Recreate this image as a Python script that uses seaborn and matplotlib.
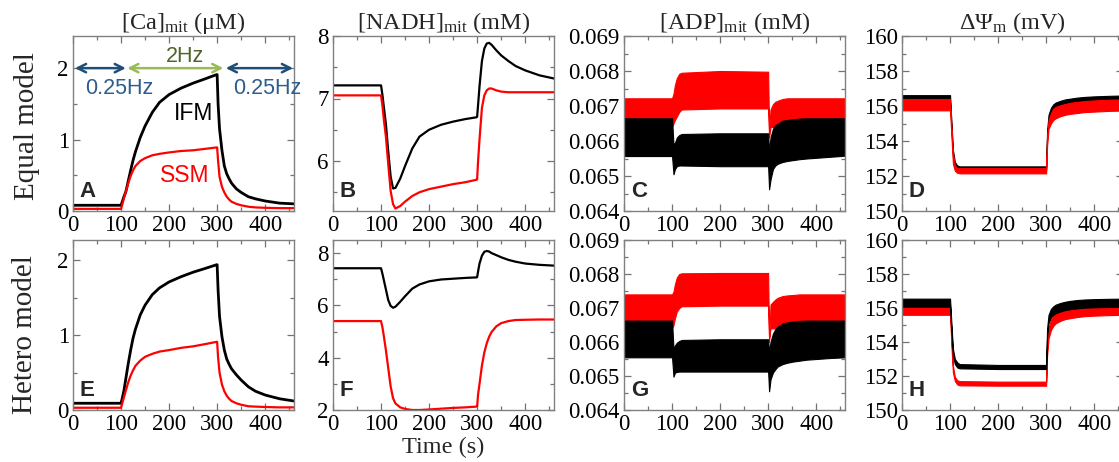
import numpy as np
import seaborn as sns
import matplotlib.pyplot as plt
from matplotlib.ticker import MultipleLocator, FormatStrFormatter

# time grids (s)
t_line = [0, 100, 103, 106, 110, 115, 120, 125, 130, 140, 150, 165, 180, 200, 225, 250, 275,
          299, 300, 302, 305, 310, 315, 320, 325, 330, 340, 350, 365, 380, 400, 430, 460]
t_band = [0, 100, 103, 106, 110, 115, 120, 200, 299, 300, 302, 305, 310, 315, 320, 330,
          340, 350, 365, 380, 400, 430, 460]

# [Ca]mit (uM)
ca_ifm_eq = [0.08, 0.08, 0.14, 0.20, 0.27, 0.42, 0.57, 0.71, 0.83, 1.03, 1.19, 1.38, 1.52, 1.63, 1.72, 1.79, 1.85,
             1.91, 1.91, 1.50, 1.15, 0.85, 0.63, 0.52, 0.45, 0.39, 0.31, 0.26, 0.20, 0.17, 0.14, 0.11, 0.10]
ca_ssm_eq = [0.03, 0.03, 0.10, 0.18, 0.27, 0.39, 0.49, 0.57, 0.63, 0.70, 0.74, 0.78, 0.80, 0.82, 0.84, 0.85, 0.87,
             0.89, 0.89, 0.70, 0.48, 0.34, 0.26, 0.20, 0.16, 0.13, 0.10, 0.08, 0.06, 0.05, 0.045, 0.04, 0.04]
ca_ifm_het = [0.09, 0.09, 0.17, 0.26, 0.42, 0.62, 0.80, 0.96, 1.08, 1.27, 1.40, 1.54, 1.63, 1.71, 1.78, 1.84, 1.89,
              1.94, 1.94, 1.60, 1.25, 0.98, 0.80, 0.68, 0.61, 0.55, 0.47, 0.40, 0.31, 0.25, 0.20, 0.15, 0.12]
ca_ssm_het = [0.03, 0.03, 0.10, 0.17, 0.26, 0.37, 0.46, 0.53, 0.59, 0.66, 0.71, 0.75, 0.78, 0.80, 0.83, 0.85, 0.88,
              0.91, 0.91, 0.70, 0.50, 0.34, 0.25, 0.19, 0.15, 0.12, 0.09, 0.07, 0.05, 0.045, 0.04, 0.035, 0.035]

# [NADH]mit (mM)
nadh_ifm_eq = [7.21, 7.21, 7.05, 6.85, 6.60, 6.15, 5.75, 5.56, 5.57, 5.72, 5.92, 6.20, 6.39, 6.50, 6.58, 6.63, 6.67,
               6.70, 6.71, 6.90, 7.20, 7.60, 7.80, 7.88, 7.89, 7.86, 7.77, 7.69, 7.60, 7.52, 7.45, 7.37, 7.32]
nadh_ssm_eq = [7.05, 7.05, 6.88, 6.65, 6.40, 5.95, 5.52, 5.31, 5.24, 5.28, 5.35, 5.44, 5.50, 5.55, 5.59, 5.63, 5.66,
               5.70, 5.71, 6.00, 6.35, 6.85, 7.05, 7.13, 7.16, 7.16, 7.13, 7.11, 7.10, 7.10, 7.10, 7.10, 7.10]
nadh_ifm_het = [7.42, 7.42, 7.20, 6.95, 6.62, 6.20, 5.98, 5.91, 5.95, 6.14, 6.35, 6.64, 6.80, 6.92, 6.99, 7.02, 7.05,
                7.07, 7.08, 7.30, 7.60, 7.90, 8.05, 8.08, 8.06, 8.00, 7.92, 7.84, 7.74, 7.67, 7.60, 7.55, 7.52]
nadh_ssm_het = [5.40, 5.40, 5.15, 4.80, 4.30, 3.60, 2.90, 2.45, 2.25, 2.10, 2.04, 2.00, 2.00, 2.02, 2.05, 2.08, 2.10,
                2.13, 2.14, 2.60, 3.00, 3.70, 4.20, 4.55, 4.80, 4.98, 5.20, 5.32, 5.40, 5.44, 5.45, 5.46, 5.46]

# [ADP]mit (mM) oscillation envelopes
adp_ssm_eq_hi = [0.06722, 0.06722, 0.06735, 0.06760, 0.06780, 0.06792, 0.06795, 0.06800, 0.06798, 0.06798, 0.06630,
                 0.06690, 0.06705, 0.06712, 0.06715, 0.06720, 0.06722, 0.06722, 0.06722, 0.06722, 0.06722, 0.06722, 0.06722]
adp_ssm_eq_lo = [0.06640, 0.06640, 0.06650, 0.06660, 0.06670, 0.06683, 0.06690, 0.06693, 0.06693, 0.06693, 0.06610,
                 0.06640, 0.06640, 0.06640, 0.06640, 0.06640, 0.06640, 0.06640, 0.06640, 0.06640, 0.06640, 0.06640, 0.06640]
adp_ifm_eq_hi = [0.06665, 0.06665, 0.06590, 0.06595, 0.06610, 0.06617, 0.06620, 0.06622, 0.06622, 0.06622, 0.06570,
                 0.06610, 0.06635, 0.06645, 0.06650, 0.06658, 0.06660, 0.06662, 0.06664, 0.06665, 0.06665, 0.06665, 0.06665]
adp_ifm_eq_lo = [0.06557, 0.06557, 0.06505, 0.06520, 0.06528, 0.06530, 0.06530, 0.06528, 0.06528, 0.06528, 0.06462,
                 0.06490, 0.06520, 0.06530, 0.06535, 0.06540, 0.06543, 0.06545, 0.06548, 0.06550, 0.06552, 0.06555, 0.06558]
adp_ssm_het_hi = [0.06740, 0.06740, 0.06748, 0.06770, 0.06790, 0.06800, 0.06802, 0.06803, 0.06803, 0.06803, 0.06600,
                  0.06710, 0.06718, 0.06725, 0.06730, 0.06735, 0.06737, 0.06738, 0.06740, 0.06740, 0.06740, 0.06740, 0.06740]
adp_ssm_het_lo = [0.06640, 0.06640, 0.06650, 0.06670, 0.06690, 0.06700, 0.06705, 0.06707, 0.06707, 0.06707, 0.06610,
                  0.06640, 0.06640, 0.06640, 0.06640, 0.06640, 0.06640, 0.06640, 0.06640, 0.06640, 0.06640, 0.06640, 0.06640]
adp_ifm_het_hi = [0.06663, 0.06663, 0.06580, 0.06590, 0.06598, 0.06603, 0.06606, 0.06608, 0.06608, 0.06608, 0.06570,
                  0.06600, 0.06625, 0.06638, 0.06645, 0.06655, 0.06658, 0.06660, 0.06662, 0.06663, 0.06663, 0.06663, 0.06663]
adp_ifm_het_lo = [0.06555, 0.06555, 0.06498, 0.06510, 0.06512, 0.06513, 0.06513, 0.06513, 0.06513, 0.06513, 0.06455,
                  0.06490, 0.06510, 0.06520, 0.06528, 0.06535, 0.06539, 0.06542, 0.06545, 0.06548, 0.06550, 0.06553, 0.06555]

# delta Psi_m (mV) oscillation envelopes
psi_ifm_eq_hi = [156.62, 156.62, 155.0, 153.5, 152.8, 152.6, 152.55, 152.55, 152.55, 152.55, 154.6, 155.5, 155.9,
                 156.1, 156.2, 156.3, 156.38, 156.42, 156.48, 156.52, 156.55, 156.58, 156.6]
psi_ifm_eq_lo = [156.2, 156.2, 154.6, 153.1, 152.5, 152.38, 152.35, 152.35, 152.35, 152.35, 154.2, 155.1, 155.5,
                 155.7, 155.8, 155.9, 155.98, 156.02, 156.08, 156.12, 156.15, 156.18, 156.2]
psi_ssm_eq_hi = [156.4, 156.4, 154.8, 153.3, 152.6, 152.45, 152.45, 152.45, 152.45, 152.45, 154.3, 155.2, 155.6,
                 155.85, 155.95, 156.05, 156.12, 156.18, 156.24, 156.28, 156.32, 156.36, 156.38]
psi_ssm_eq_lo = [155.75, 155.75, 154.2, 152.7, 152.3, 152.18, 152.15, 152.15, 152.15, 152.15, 153.7, 154.7, 155.0,
                 155.2, 155.3, 155.42, 155.5, 155.55, 155.6, 155.65, 155.68, 155.72, 155.74]
psi_ssm_het_hi = [156.2, 156.2, 154.2, 152.6, 151.95, 151.75, 151.7, 151.67, 151.67, 151.67, 153.8, 154.8, 155.3,
                  155.55, 155.7, 155.85, 155.95, 156.0, 156.05, 156.1, 156.13, 156.16, 156.18]
psi_ssm_het_lo = [155.6, 155.6, 153.7, 152.2, 151.7, 151.5, 151.45, 151.43, 151.43, 151.43, 153.2, 154.2, 154.7,
                  154.95, 155.1, 155.25, 155.35, 155.4, 155.47, 155.52, 155.55, 155.58, 155.6]
psi_ifm_het_hi = [156.55, 156.55, 155.0, 153.6, 153.0, 152.8, 152.7, 152.65, 152.65, 152.65, 154.8, 155.6, 155.95,
                  156.1, 156.2, 156.3, 156.37, 156.42, 156.47, 156.5, 156.52, 156.54, 156.55]
psi_ifm_het_lo = [156.08, 156.08, 154.6, 153.2, 152.7, 152.5, 152.45, 152.41, 152.41, 152.41, 154.3, 155.1, 155.45,
                  155.6, 155.7, 155.8, 155.88, 155.93, 155.98, 156.02, 156.04, 156.06, 156.08]

col_titles = [r'[Ca]$_{\mathrm{mit}}$ (μM)', r'[NADH]$_{\mathrm{mit}}$ (mM)',
              r'[ADP]$_{\mathrm{mit}}$ (mM)', r'ΔΨ$_{\mathrm{m}}$ (mV)']
row_titles = ['Equal model', 'Hetero model']
panel_letters = ['A', 'B', 'C', 'D', 'E', 'F', 'G', 'H']

sns.set_theme(style='ticks')
plt.rcParams['font.family'] = ['Liberation Serif', 'DejaVu Serif']
plt.rcParams['mathtext.fontset'] = 'custom'
plt.rcParams['mathtext.rm'] = 'Liberation Serif'
plt.rcParams['mathtext.it'] = 'Liberation Serif:italic'

W, H = 1119, 462
fig = plt.figure(figsize=(W / 100, H / 100), dpi=100)
col_left = [73, 333, 624, 902]
row_span = [(36, 211), (240, 410)]

axes = {}
for r in range(2):
    for c in range(4):
        top, bot = row_span[r]
        ax = fig.add_axes([col_left[c] / W, 1 - bot / H, 221 / W, (bot - top) / H])
        axes[(r, c)] = ax

RED = '#ff0000'


def style(ax, ylim, major, minor, fmt=None):
    ax.set_xlim(0, 460)
    ax.set_ylim(*ylim)
    ax.xaxis.set_major_locator(MultipleLocator(100))
    ax.xaxis.set_minor_locator(MultipleLocator(50))
    ax.yaxis.set_major_locator(MultipleLocator(major))
    ax.yaxis.set_minor_locator(MultipleLocator(minor))
    if fmt:
        ax.yaxis.set_major_formatter(FormatStrFormatter(fmt))
    ax.tick_params(which='both', direction='in', top=True, right=True, color='0.45',
                   labelsize=16.5, labelcolor='black', width=0.9)
    ax.tick_params(which='major', length=5, pad=3)
    ax.tick_params(which='minor', length=3)
    for s in ax.spines.values():
        s.set_color('0.5')
        s.set_linewidth(1.0)
    ax.set_xlabel('')
    ax.set_ylabel('')


# Ca panels
for r, (ifm, ssm, ylim) in enumerate([(ca_ifm_eq, ca_ssm_eq, (0, 2.45)), (ca_ifm_het, ca_ssm_het, (0, 2.27))]):
    ax = axes[(r, 0)]
    sns.lineplot(x=t_line, y=ifm, ax=ax, color='black', linewidth=2.0)
    sns.lineplot(x=t_line, y=ssm, ax=ax, color=RED, linewidth=1.6)
    style(ax, ylim, 1, 0.5)

# NADH panels
for r, (ifm, ssm, ylim, maj, mnr) in enumerate([(nadh_ifm_eq, nadh_ssm_eq, (5.2, 8.0), 1, 0.5),
                                                (nadh_ifm_het, nadh_ssm_het, (2, 8.5), 2, 1)]):
    ax = axes[(r, 1)]
    sns.lineplot(x=t_line, y=ifm, ax=ax, color='black', linewidth=1.6)
    sns.lineplot(x=t_line, y=ssm, ax=ax, color=RED, linewidth=1.6)
    style(ax, ylim, maj, mnr)

# ADP panels (red under black)
for r, (sh, sl, ih, il) in enumerate([(adp_ssm_eq_hi, adp_ssm_eq_lo, adp_ifm_eq_hi, adp_ifm_eq_lo),
                                      (adp_ssm_het_hi, adp_ssm_het_lo, adp_ifm_het_hi, adp_ifm_het_lo)]):
    ax = axes[(r, 2)]
    ax.fill_between(t_band, sl, sh, color=RED, linewidth=0.8, edgecolor=RED)
    ax.fill_between(t_band, il, ih, color='black', linewidth=0.8, edgecolor='black')
    style(ax, (0.064, 0.069), 0.001, 0.0005, '%.3f')

# Psi panels
ax = axes[(0, 3)]
ax.fill_between(t_band, psi_ifm_eq_lo, psi_ifm_eq_hi, color='black', linewidth=0.8, edgecolor='black')
ax.fill_between(t_band, psi_ssm_eq_lo, psi_ssm_eq_hi, color=RED, linewidth=0.8, edgecolor=RED)
style(ax, (150, 160), 2, 1)
ax = axes[(1, 3)]
ax.fill_between(t_band, psi_ssm_het_lo, psi_ssm_het_hi, color=RED, linewidth=0.8, edgecolor=RED)
ax.fill_between(t_band, psi_ifm_het_lo, psi_ifm_het_hi, color='black', linewidth=0.8, edgecolor='black')
style(ax, (150, 160), 2, 1)

# titles, labels
for c in range(4):
    axes[(0, c)].set_title(col_titles[c], fontsize=17.5, pad=5)
axes[(1, 1)].set_xlabel('Time (s)', fontsize=17.5, labelpad=1)

fig.text(27 / W, 1 - 126 / H, row_titles[0], rotation=90, ha='center', va='center', fontsize=21)
fig.text(25 / W, 1 - 335 / H, row_titles[1], rotation=90, ha='center', va='center', fontsize=21)

for i, letter in enumerate(panel_letters):
    ax = axes[(i // 4, i % 4)]
    ax.text(0.03, 0.05, letter, transform=ax.transAxes, ha='left', va='bottom',
            fontsize=16, fontweight='bold', family=['Liberation Sans', 'DejaVu Sans'])

# stimulation annotations in panel A
ax = axes[(0, 0)]
blue_arrow = '#1f4e79'
blue_text = '#2e5d8c'
green_arrow = '#9bbb59'
green_text = '#4f6228'
sans = ['Liberation Sans', 'DejaVu Sans']
for x0, x1, col in [(4, 110, blue_arrow), (113, 313, green_arrow), (318, 458, blue_arrow)]:
    ax.annotate('', xy=(x1, 2.0), xytext=(x0, 2.0),
                arrowprops=dict(arrowstyle='<->,head_length=0.5,head_width=0.25', color=col, lw=1.8,
                                shrinkA=0, shrinkB=0))
ax.text(96, 1.71, '0.25Hz', color=blue_text, ha='center', va='center', fontsize=15.5, family=sans)
ax.text(405, 1.71, '0.25Hz', color=blue_text, ha='center', va='center', fontsize=15.5, family=sans)
ax.text(234, 2.02, '2Hz', color=green_text, ha='center', va='bottom', fontsize=15.5, family=sans)
ax.text(251, 1.36, 'IFM', color='black', ha='center', va='center', fontsize=16.5, family=sans)
ax.text(232, 0.49, 'SSM', color=RED, ha='center', va='center', fontsize=16.5, family=sans)

fig.savefig('out.png', dpi=100)
